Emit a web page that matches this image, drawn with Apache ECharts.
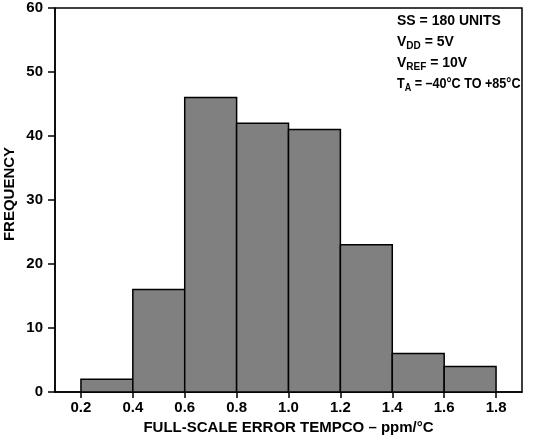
<!DOCTYPE html>
<html>
<head>
<meta charset="utf-8">
<script src="https://cdn.jsdelivr.net/npm/echarts@6/dist/echarts.min.js"></script>
<style>
  html, body { margin: 0; padding: 0; background: #fff; }
  #chart { width: 535px; height: 442px; }
</style>
</head>
<body>
<div id="chart"></div>
<script>
// histogram bins (ppm/°C) and counts
const binStart = [0.2, 0.4, 0.6, 0.8, 1.0, 1.2, 1.4, 1.6];
const binEnd = [0.4, 0.6, 0.8, 1.0, 1.2, 1.4, 1.6, 1.8];
const counts = [2, 16, 46, 42, 41, 23, 6, 4];
const xTicks = [0.2, 0.4, 0.6, 0.8, 1.0, 1.2, 1.4, 1.6, 1.8];

const font = 'Liberation Sans, Arial, sans-serif';
const chart = echarts.init(document.getElementById('chart'));

// main text + subscript styles for the note box
const rich = {
  a: { font: 'bold 14px ' + font, fill: '#000', verticalAlign: 'top' },
  s: { font: 'bold 10px ' + font, fill: '#000', padding: [6, 0, 0, 0], verticalAlign: 'top' }
};

const option = {
  animation: false,
  grid: {
    left: 55, right: 13, top: 8, bottom: 50,
    outerBoundsMode: 'none',
    show: true, borderColor: '#000', borderWidth: 1.5
  },
  xAxis: {
    type: 'value',
    min: 0.1,
    max: 1.9,
    name: 'FULL-SCALE ERROR TEMPCO – ppm/°C',
    nameLocation: 'middle',
    nameGap: 18,
    nameTextStyle: { fontFamily: font, fontWeight: 'bold', fontSize: 15, color: '#000' },
    splitLine: { show: false },
    axisLine: { lineStyle: { color: '#000', width: 1.5 } },
    axisTick: { customValues: xTicks, length: 6, lineStyle: { color: '#000', width: 1.5 } },
    axisLabel: {
      customValues: xTicks,
      margin: 8,
      fontFamily: font, fontWeight: 'bold', fontSize: 15, color: '#000',
      formatter: v => v.toFixed(1)
    }
  },
  yAxis: {
    type: 'value',
    min: 0,
    max: 60,
    interval: 10,
    splitLine: { show: false },
    axisLine: { show: true, lineStyle: { color: '#000', width: 1.5 } },
    axisTick: { show: true, length: 7, lineStyle: { color: '#000', width: 1.5 } },
    axisLabel: { margin: 12, fontFamily: font, fontWeight: 'bold', fontSize: 15, color: '#000' }
  },
  series: [
    {
      type: 'custom',
      data: counts.map((c, i) => [binStart[i], binEnd[i], c]),
      encode: { x: [0, 1], y: 2 },
      renderItem: (params, api) => {
        const p0 = api.coord([api.value(0), api.value(2)]);
        const p1 = api.coord([api.value(1), 0]);
        return {
          type: 'rect',
          shape: { x: p0[0], y: p0[1], width: p1[0] - p0[0], height: p1[1] - p0[1] },
          style: { fill: '#808080', stroke: '#000', lineWidth: 1.5 }
        };
      }
    }
  ],
  graphic: [
    {
      // y axis title, sits a bit above the middle in the original
      type: 'text',
      x: 10,
      y: 194,
      rotation: Math.PI / 2,
      style: {
        text: 'FREQUENCY',
        font: 'bold 15px ' + font,
        fill: '#000',
        align: 'center',
        verticalAlign: 'middle'
      }
    },
    {
      type: 'group',
      left: 397,
      top: 14,
      children: [
        { type: 'text', x: 0, y: 0, style: { text: '{a|SS = 180 UNITS}', rich } },
        { type: 'text', x: 0, y: 21, style: { text: '{a|V}{s|DD}{a| = 5V}', rich } },
        { type: 'text', x: 0, y: 42, style: { text: '{a|V}{s|REF}{a| = 10V}', rich } },
        // last line is set tighter in the original so it fits inside the frame
        { type: 'text', x: 0, y: 63, scaleX: 0.9, style: { text: '{a|T}{s|A}{a| = –40°C TO +85°C}', rich } }
      ]
    }
  ]
};

chart.setOption(option);
</script>
</body>
</html>
